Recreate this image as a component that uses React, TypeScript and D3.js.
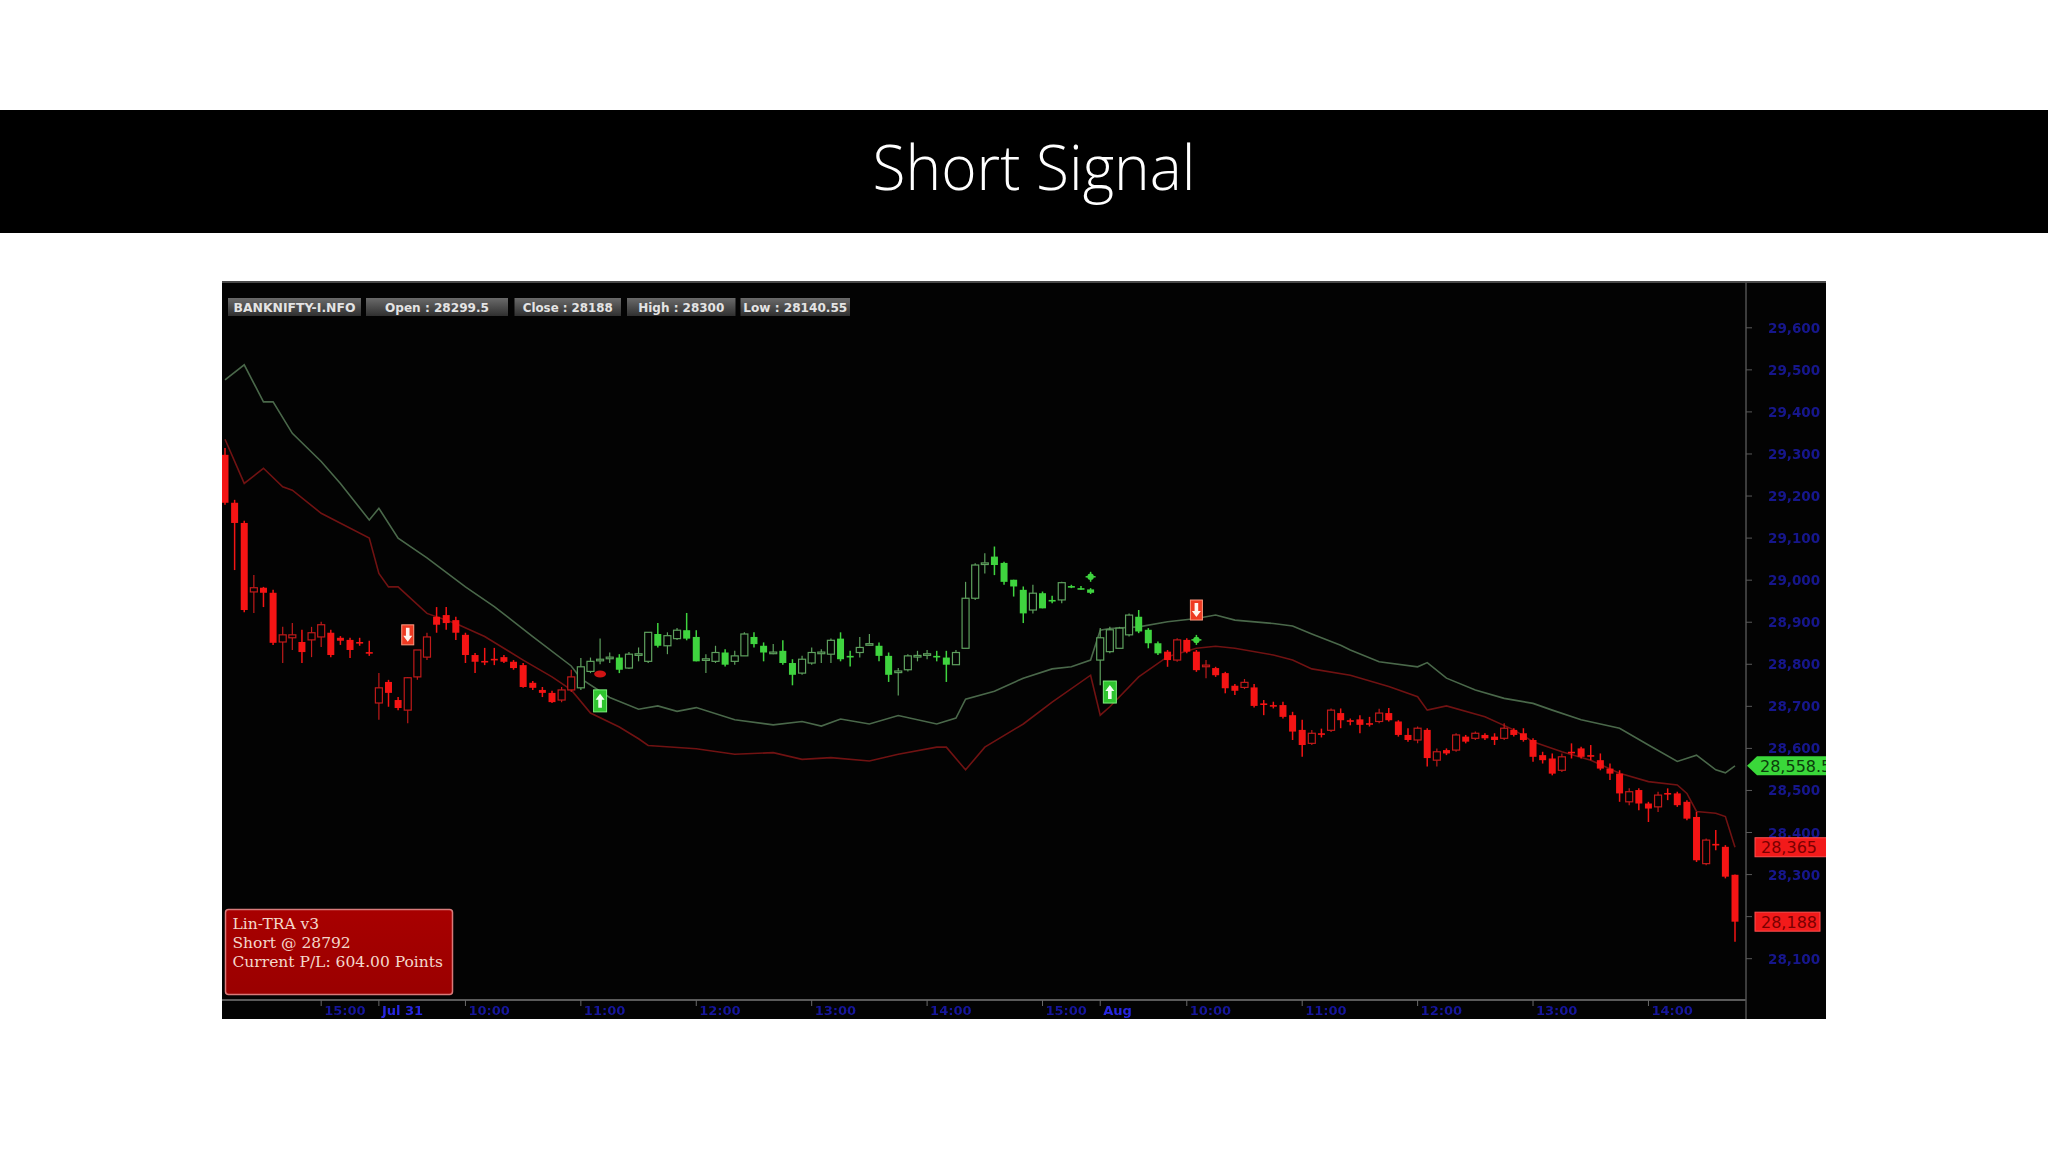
import React from 'react';
import * as d3 from 'd3';

// ---------- DATA ----------
// 5-minute candles, [open, high, low, close]
const ohlc: [number, number, number, number][] = [
  [29298, 29314, 29179, 29184], [29184, 29191, 29024, 29136], [29136, 29141, 28924, 28929], [28972, 29012, 28922, 28982],
  [28982, 28984, 28936, 28970], [28970, 28977, 28846, 28851], [28853, 28889, 28803, 28870], [28863, 28898, 28834, 28870],
  [28853, 28882, 28803, 28829], [28858, 28889, 28817, 28875], [28865, 28901, 28841, 28894], [28875, 28882, 28817, 28822],
  [28863, 28867, 28846, 28856], [28858, 28863, 28815, 28834], [28853, 28863, 28844, 28851], [28829, 28856, 28820, 28827],
  [28708, 28779, 28668, 28744], [28758, 28763, 28699, 28732], [28715, 28722, 28691, 28696], [28691, 28770, 28660, 28768],
  [28770, 28834, 28763, 28834], [28817, 28875, 28810, 28865], [28913, 28936, 28875, 28894], [28917, 28936, 28882, 28898],
  [28905, 28913, 28858, 28875], [28870, 28875, 28803, 28822], [28822, 28827, 28779, 28806], [28808, 28839, 28798, 28806],
  [28813, 28839, 28798, 28810], [28817, 28822, 28803, 28806], [28806, 28810, 28787, 28791], [28798, 28803, 28744, 28746],
  [28756, 28760, 28739, 28744], [28739, 28746, 28722, 28732], [28732, 28737, 28708, 28710], [28715, 28746, 28710, 28739],
  [28739, 28787, 28734, 28770], [28744, 28815, 28739, 28794], [28783, 28816, 28779, 28807], [28810, 28861, 28800, 28812],
  [28815, 28828, 28803, 28817], [28816, 28824, 28779, 28787], [28791, 28829, 28789, 28824], [28824, 28840, 28807, 28825],
  [28807, 28876, 28803, 28876], [28872, 28898, 28840, 28844], [28844, 28876, 28824, 28868], [28861, 28886, 28858, 28881],
  [28881, 28922, 28857, 28861], [28865, 28881, 28807, 28807], [28812, 28824, 28779, 28813], [28807, 28844, 28803, 28828],
  [28828, 28836, 28795, 28799], [28807, 28832, 28799, 28820], [28820, 28876, 28820, 28872], [28865, 28876, 28840, 28848],
  [28844, 28852, 28807, 28828], [28828, 28848, 28824, 28829], [28832, 28857, 28799, 28803], [28803, 28812, 28750, 28775],
  [28779, 28820, 28775, 28812], [28803, 28840, 28799, 28828], [28828, 28836, 28803, 28829], [28824, 28861, 28803, 28857],
  [28861, 28876, 28807, 28812], [28820, 28832, 28795, 28819], [28828, 28865, 28816, 28840], [28848, 28872, 28844, 28849],
  [28844, 28852, 28807, 28820], [28820, 28828, 28758, 28775], [28783, 28791, 28726, 28784], [28787, 28824, 28783, 28820],
  [28820, 28832, 28807, 28821], [28824, 28834, 28812, 28825], [28820, 28832, 28807, 28819], [28816, 28832, 28758, 28799],
  [28799, 28834, 28799, 28828], [28838, 28996, 28838, 28957], [28957, 29040, 28953, 29036], [29040, 29064, 29016, 29041],
  [29056, 29080, 29012, 29036], [29041, 29044, 28989, 28996], [29001, 29001, 28961, 28985], [28977, 28985, 28898, 28921],
  [28929, 28989, 28921, 28969], [28969, 28973, 28933, 28933], [28953, 28963, 28945, 28952], [28953, 28996, 28945, 28994],
  [28986, 28989, 28981, 28985], [28981, 28986, 28977, 28980], [28978, 28981, 28967, 28970], [28810, 28886, 28750, 28863],
  [28830, 28889, 28826, 28882], [28838, 28889, 28838, 28886], [28870, 28921, 28866, 28917], [28913, 28929, 28874, 28878],
  [28882, 28886, 28838, 28850], [28850, 28854, 28822, 28826], [28830, 28834, 28794, 28810], [28810, 28862, 28806, 28858],
  [28858, 28862, 28826, 28830], [28830, 28834, 28782, 28786], [28796, 28810, 28767, 28798], [28791, 28794, 28770, 28774],
  [28779, 28782, 28731, 28743], [28749, 28753, 28727, 28737], [28745, 28765, 28741, 28757], [28745, 28753, 28697, 28701],
  [28707, 28715, 28679, 28706], [28703, 28711, 28695, 28702], [28703, 28711, 28671, 28675], [28679, 28687, 28620, 28640],
  [28644, 28668, 28580, 28608], [28612, 28644, 28608, 28636], [28636, 28647, 28626, 28635], [28643, 28695, 28639, 28691],
  [28684, 28695, 28648, 28667], [28667, 28671, 28655, 28666], [28669, 28679, 28636, 28656], [28660, 28675, 28652, 28659],
  [28664, 28694, 28660, 28684], [28684, 28696, 28664, 28667], [28664, 28667, 28628, 28632], [28632, 28648, 28616, 28620],
  [28620, 28652, 28612, 28648], [28644, 28648, 28557, 28577], [28572, 28600, 28557, 28592], [28596, 28600, 28584, 28588],
  [28596, 28636, 28592, 28632], [28628, 28632, 28612, 28616], [28624, 28640, 28620, 28636], [28632, 28636, 28620, 28624],
  [28628, 28636, 28608, 28620], [28624, 28660, 28620, 28648], [28644, 28648, 28628, 28632], [28636, 28648, 28616, 28620],
  [28620, 28624, 28568, 28580], [28584, 28592, 28564, 28572], [28576, 28588, 28536, 28540], [28548, 28588, 28544, 28580],
  [28592, 28612, 28576, 28592], [28600, 28604, 28576, 28580], [28584, 28608, 28572, 28583], [28572, 28588, 28548, 28552],
  [28552, 28564, 28525, 28540], [28540, 28548, 28473, 28493], [28473, 28505, 28465, 28497], [28501, 28505, 28453, 28469],
  [28469, 28473, 28425, 28457], [28461, 28497, 28449, 28489], [28494, 28505, 28477, 28494], [28493, 28497, 28461, 28465],
  [28473, 28477, 28429, 28433], [28437, 28449, 28330, 28334], [28326, 28386, 28322, 28382], [28373, 28406, 28358, 28372],
  [28366, 28370, 28291, 28295], [28299.5, 28300, 28140.55, 28188],
];

// candle index ranges where the system is short (red); the rest are long (green)
const shortRanges: [number, number][] = [[0, 36], [98, 157]];

// upper band (grey-green line): [candle index, price]
const upperBand: [number, number][] = [
  [0, 29476], [2, 29512], [4, 29424], [5, 29424], [7, 29349], [10, 29282], [12, 29230], [15, 29143], [16, 29171],
  [18, 29100], [21, 29053], [25, 28984], [28, 28937], [32, 28866], [36, 28796], [37, 28766], [40, 28721], [43, 28693],
  [45, 28701], [47, 28688], [49, 28697], [53, 28668], [57, 28656], [60, 28664], [62, 28653], [64, 28670], [67, 28658],
  [70, 28678], [74, 28658], [76, 28672], [77, 28717], [80, 28736], [83, 28767], [86, 28789], [88, 28794], [90, 28810],
  [91, 28881], [92, 28885], [95, 28889], [98, 28901], [101, 28909], [103, 28917], [105, 28905], [109, 28897], [111, 28891],
  [113, 28872], [116, 28845], [117, 28834], [120, 28806], [124, 28794], [125, 28804], [127, 28767], [130, 28739],
  [133, 28719], [136, 28707], [138, 28691], [141, 28668], [145, 28648], [148, 28608], [151, 28569], [153, 28584],
  [155, 28549], [156, 28542], [157, 28558.5],
];

// lower band (dark red line): [candle index, price]
const lowerBand: [number, number][] = [
  [0, 29335], [2, 29230], [4, 29266], [6, 29222], [7, 29214], [10, 29159], [15, 29100], [16, 29016], [17, 28984],
  [18, 28984], [21, 28921], [24, 28897], [27, 28866], [31, 28810], [34, 28770], [36, 28739], [38, 28684], [41, 28651],
  [43, 28623], [44, 28607], [49, 28599], [53, 28586], [57, 28590], [60, 28574], [63, 28578], [67, 28570], [70, 28586],
  [74, 28603], [75, 28603], [77, 28549], [79, 28603], [83, 28658], [86, 28710], [90, 28774], [91, 28679], [92, 28699],
  [95, 28770], [98, 28818], [101, 28838], [103, 28843], [105, 28838], [109, 28822], [111, 28810], [113, 28789],
  [117, 28774], [121, 28747], [124, 28723], [125, 28691], [127, 28701], [131, 28675], [134, 28644], [136, 28616],
  [139, 28592], [142, 28572], [145, 28541], [148, 28521], [151, 28513], [152, 28493], [153, 28450], [155, 28446],
  [156, 28438], [157, 28365],
];

const sellSignals = [{ i: 19, p: 28870 }, { i: 101, p: 28929 }];
const buySignals = [{ i: 39, p: 28713 }, { i: 92, p: 28734 }];
const starMarks = [{ i: 90, p: 29008 }, { i: 101, p: 28858 }];
const dotMarks = [{ i: 39, p: 28777 }];

const yTickValues = [29600, 29500, 29400, 29300, 29200, 29100, 29000, 28900, 28800, 28700, 28600, 28500, 28400, 28300, 28200, 28100];
const timeTickIdx = [10, 16, 25, 37, 49, 61, 73, 85, 91, 100, 112, 124, 136, 148];
const timeTickLabels = ['15:00', 'Jul 31', '10:00', '11:00', '12:00', '13:00', '14:00', '15:00', 'Aug', '10:00', '11:00', '12:00', '13:00', '14:00'];

const headerLabels = ['BANKNIFTY-I.NFO', 'Open : 28299.5', 'Close : 28188', 'High : 28300', 'Low : 28140.55'];
const infoLines = ['Lin-TRA v3', 'Short @ 28792', 'Current P/L: 604.00 Points'];
const priceTags = [
  { label: '28,558.5', value: 28558.5, kind: 'green' },
  { label: '28,365', value: 28365, kind: 'red' },
  { label: '28,188', value: 28188, kind: 'red' },
];

// ---------- LAYOUT ----------
const CH = { x0: 222, x1: 1826, y0: 281, y1: 1019, axisX: 1746, axisY: 1000 };
const headerBoxes = [[228, 133], [366, 142], [514.5, 106.5], [627, 108.5], [740.5, 109.5]];
const headerTextW = [122, 104, 90, 86, 104];

export default function App() {
  const x = d3.scaleLinear().domain([0, 157]).range([225, 1735]);
  const y = d3.scaleLinear().domain([28100, 29600]).range([958.7, 327.8]);
  const line = d3.line<[number, number]>().x((d) => x(d[0])).y((d) => y(d[1]));
  const isShort = (i: number) => shortRanges.some(([a, b]) => i >= a && i <= b);
  // y labels hidden behind a price tag
  const covered = (v: number) => priceTags.some((t) => Math.abs(y(v) - y(t.value)) < 11);

  return (
    <svg width={2048} height={1152} style={{ position: 'absolute', left: 0, top: 0, background: '#fff' }}>
      <defs>
        <clipPath id="plot"><rect x={CH.x0} y={CH.y0} width={CH.axisX - CH.x0} height={CH.axisY - CH.y0} /></clipPath>
        <clipPath id="chart"><rect x={CH.x0} y={CH.y0} width={CH.x1 - CH.x0} height={CH.y1 - CH.y0} /></clipPath>
        <linearGradient id="hdr" x1="0" y1="0" x2="0" y2="1">
          <stop offset="0" stopColor="#6a6a6a" />
          <stop offset="1" stopColor="#303030" />
        </linearGradient>
        <linearGradient id="info" x1="0" y1="0" x2="0" y2="1">
          <stop offset="0" stopColor="#a80000" />
          <stop offset="1" stopColor="#9a0000" />
        </linearGradient>
        <filter id="soft"><feGaussianBlur stdDeviation="0.5" /></filter>
      </defs>

      <rect x={0} y={0} width={2048} height={1152} fill="#ffffff" />
      {/* title bar */}
      <rect x={0} y={110} width={2048} height={123} fill="#000" />
      <text x={1034} y={190} textAnchor="middle" fill="#fff" fontFamily="'Open Sans', sans-serif" fontWeight={300}
        fontSize={62} textLength={323} lengthAdjust="spacingAndGlyphs">Short Signal</text>

      {/* chart background */}
      <rect x={CH.x0} y={CH.y0} width={CH.x1 - CH.x0} height={CH.y1 - CH.y0} fill="#030303" />
      <line x1={CH.x0} x2={CH.x1} y1={CH.y0 + 1} y2={CH.y0 + 1} stroke="#4a4a4a" strokeWidth={2} />

      {/* header boxes */}
      {headerLabels.map((t, k) => (
        <g key={t}>
          <rect x={headerBoxes[k][0]} y={298} width={headerBoxes[k][1]} height={18} fill="url(#hdr)" />
          <text x={headerBoxes[k][0] + headerBoxes[k][1] / 2} y={311.5} textAnchor="middle" fill="#e4e4e4"
            fontFamily="'DejaVu Sans', sans-serif" fontWeight="bold" fontSize={12}
            textLength={headerTextW[k]} lengthAdjust="spacingAndGlyphs">{t}</text>
        </g>
      ))}

      <g clipPath="url(#plot)">
        {/* bands */}
        <path d={line(upperBand) || ''} fill="none" stroke="#4a684a" strokeWidth={1.6} />
        <path d={line(lowerBand) || ''} fill="none" stroke="#701212" strokeWidth={1.6} />

        {/* candles */}
        {ohlc.map((d, i) => {
          const [o, h, l, c] = d;
          const sh = isShort(i);
          const cx = x(i);
          const fillCol = sh ? '#f41414' : '#3fd43f';
          const hollowCol = sh ? '#c01a1a' : '#5ea05e';
          const top = y(Math.max(o, c));
          const bot = y(Math.min(o, c));
          const bh = Math.max(1.6, bot - top);
          if (c > o) {
            return (
              <g key={i}>
                <line x1={cx} x2={cx} y1={y(h)} y2={y(l)} stroke={hollowCol} strokeWidth={1.2} />
                <rect x={cx - 3.5} y={top} width={7} height={bh} fill="#030303" stroke={hollowCol} strokeWidth={1.2} />
              </g>
            );
          }
          return (
            <g key={i}>
              <line x1={cx} x2={cx} y1={y(h)} y2={y(l)} stroke={fillCol} strokeWidth={1.5} />
              <rect x={cx - 3.5} y={top} width={7} height={bh} fill={fillCol} />
            </g>
          );
        })}

        {/* signal markers */}
        {sellSignals.map((s, k) => (
          <g key={'s' + k} transform={`translate(${x(s.i)},${y(s.p)})`}>
            <rect x={-6} y={-10} width={12} height={20} fill="#ee3a22" stroke="#ff9a80" strokeWidth={1} />
            <path d="M0,7 L4.5,1 L1.8,1 L1.8,-7 L-1.8,-7 L-1.8,1 L-4.5,1 Z" fill="#fff4ee" />
          </g>
        ))}
        {buySignals.map((s, k) => (
          <g key={'b' + k} transform={`translate(${x(s.i)},${y(s.p)})`}>
            <rect x={-6.5} y={-11} width={13} height={22} fill="#2fc42f" stroke="#7ef07e" strokeWidth={1} />
            <path d="M0,-7 L4.5,-1 L1.8,-1 L1.8,7 L-1.8,7 L-1.8,-1 L-4.5,-1 Z" fill="#f0fff0" />
          </g>
        ))}
        {starMarks.map((s, k) => (
          <g key={'st' + k} transform={`translate(${x(s.i)},${y(s.p)})`}>
            <circle r={3.2} fill="#3fd43f" />
            <line x1={-5} x2={5} y1={0} y2={0} stroke="#3fd43f" strokeWidth={1.5} />
            <line x1={0} x2={0} y1={-5} y2={5} stroke="#3fd43f" strokeWidth={1.5} />
          </g>
        ))}
        {dotMarks.map((s, k) => (
          <ellipse key={'d' + k} cx={x(s.i)} cy={y(s.p)} rx={6} ry={3.5} fill="#d01414" />
        ))}
      </g>

      {/* axes */}
      <line x1={CH.x0} x2={CH.axisX} y1={CH.axisY} y2={CH.axisY} stroke="#5a5a5a" strokeWidth={2} />
      <line x1={CH.axisX} x2={CH.axisX} y1={CH.y0} y2={CH.y1} stroke="#505050" strokeWidth={1.5} />
      {timeTickIdx.map((ti, k) => (
        <g key={'t' + k}>
          <line x1={x(ti)} x2={x(ti)} y1={CH.axisY} y2={CH.axisY + 6} stroke="#6a6a6a" strokeWidth={1} />
          <text x={x(ti) + 3} y={1015} fill={timeTickLabels[k] === 'Jul 31' || timeTickLabels[k] === 'Aug' ? '#2626e0' : '#14149a'}
            fontFamily="'DejaVu Sans', sans-serif" fontWeight="bold" fontSize={13} filter="url(#soft)">{timeTickLabels[k]}</text>
        </g>
      ))}
      <g clipPath="url(#chart)">
        {yTickValues.map((v) => (
          <g key={v}>
            <line x1={CH.axisX} x2={CH.axisX + 6} y1={y(v)} y2={y(v)} stroke="#5a5a5a" strokeWidth={1} />
            {!covered(v) && (
              <text x={1768} y={y(v) + 5} fill="#16168c" fontFamily="'DejaVu Sans', sans-serif" fontWeight="bold"
                fontSize={13.5} filter="url(#soft)">{d3.format(',')(v)}</text>
            )}
          </g>
        ))}
        {priceTags.map((t, k) => {
          const cy = y(t.value);
          if (t.kind === 'green') {
            return (
              <g key={t.label}>
                <path d={`M${CH.axisX + 1},${cy} L${CH.axisX + 11},${cy - 9.5} L${CH.x1 + 5},${cy - 9.5} L${CH.x1 + 5},${cy + 9.5} L${CH.axisX + 11},${cy + 9.5} Z`} fill="#3ad83a" />
                <text x={1760} y={cy + 6} fill="#0b3d0b" fontFamily="'DejaVu Sans', sans-serif" fontSize={16}>{t.label}</text>
              </g>
            );
          }
          return (
            <g key={t.label}>
              <rect x={1755} y={cy - 9.5} width={k === 1 ? 80 : 65} height={19} fill="#f21a1a" stroke="#ff5050" strokeWidth={1} />
              <text x={1761} y={cy + 6} fill="#7a0000" fontFamily="'DejaVu Sans', sans-serif" fontSize={16}>{t.label}</text>
            </g>
          );
        })}
      </g>

      {/* info box */}
      <rect x={225.5} y={909.5} width={227} height={85} rx={3} fill="url(#info)" stroke="#d87a7a" strokeWidth={1.5} />
      {infoLines.map((t, k) => (
        <text key={t} x={232.5} y={929 + k * 19} fill="#f4d8cc" fontFamily="'DejaVu Serif', serif" fontSize={15.5}>{t}</text>
      ))}
    </svg>
  );
}
